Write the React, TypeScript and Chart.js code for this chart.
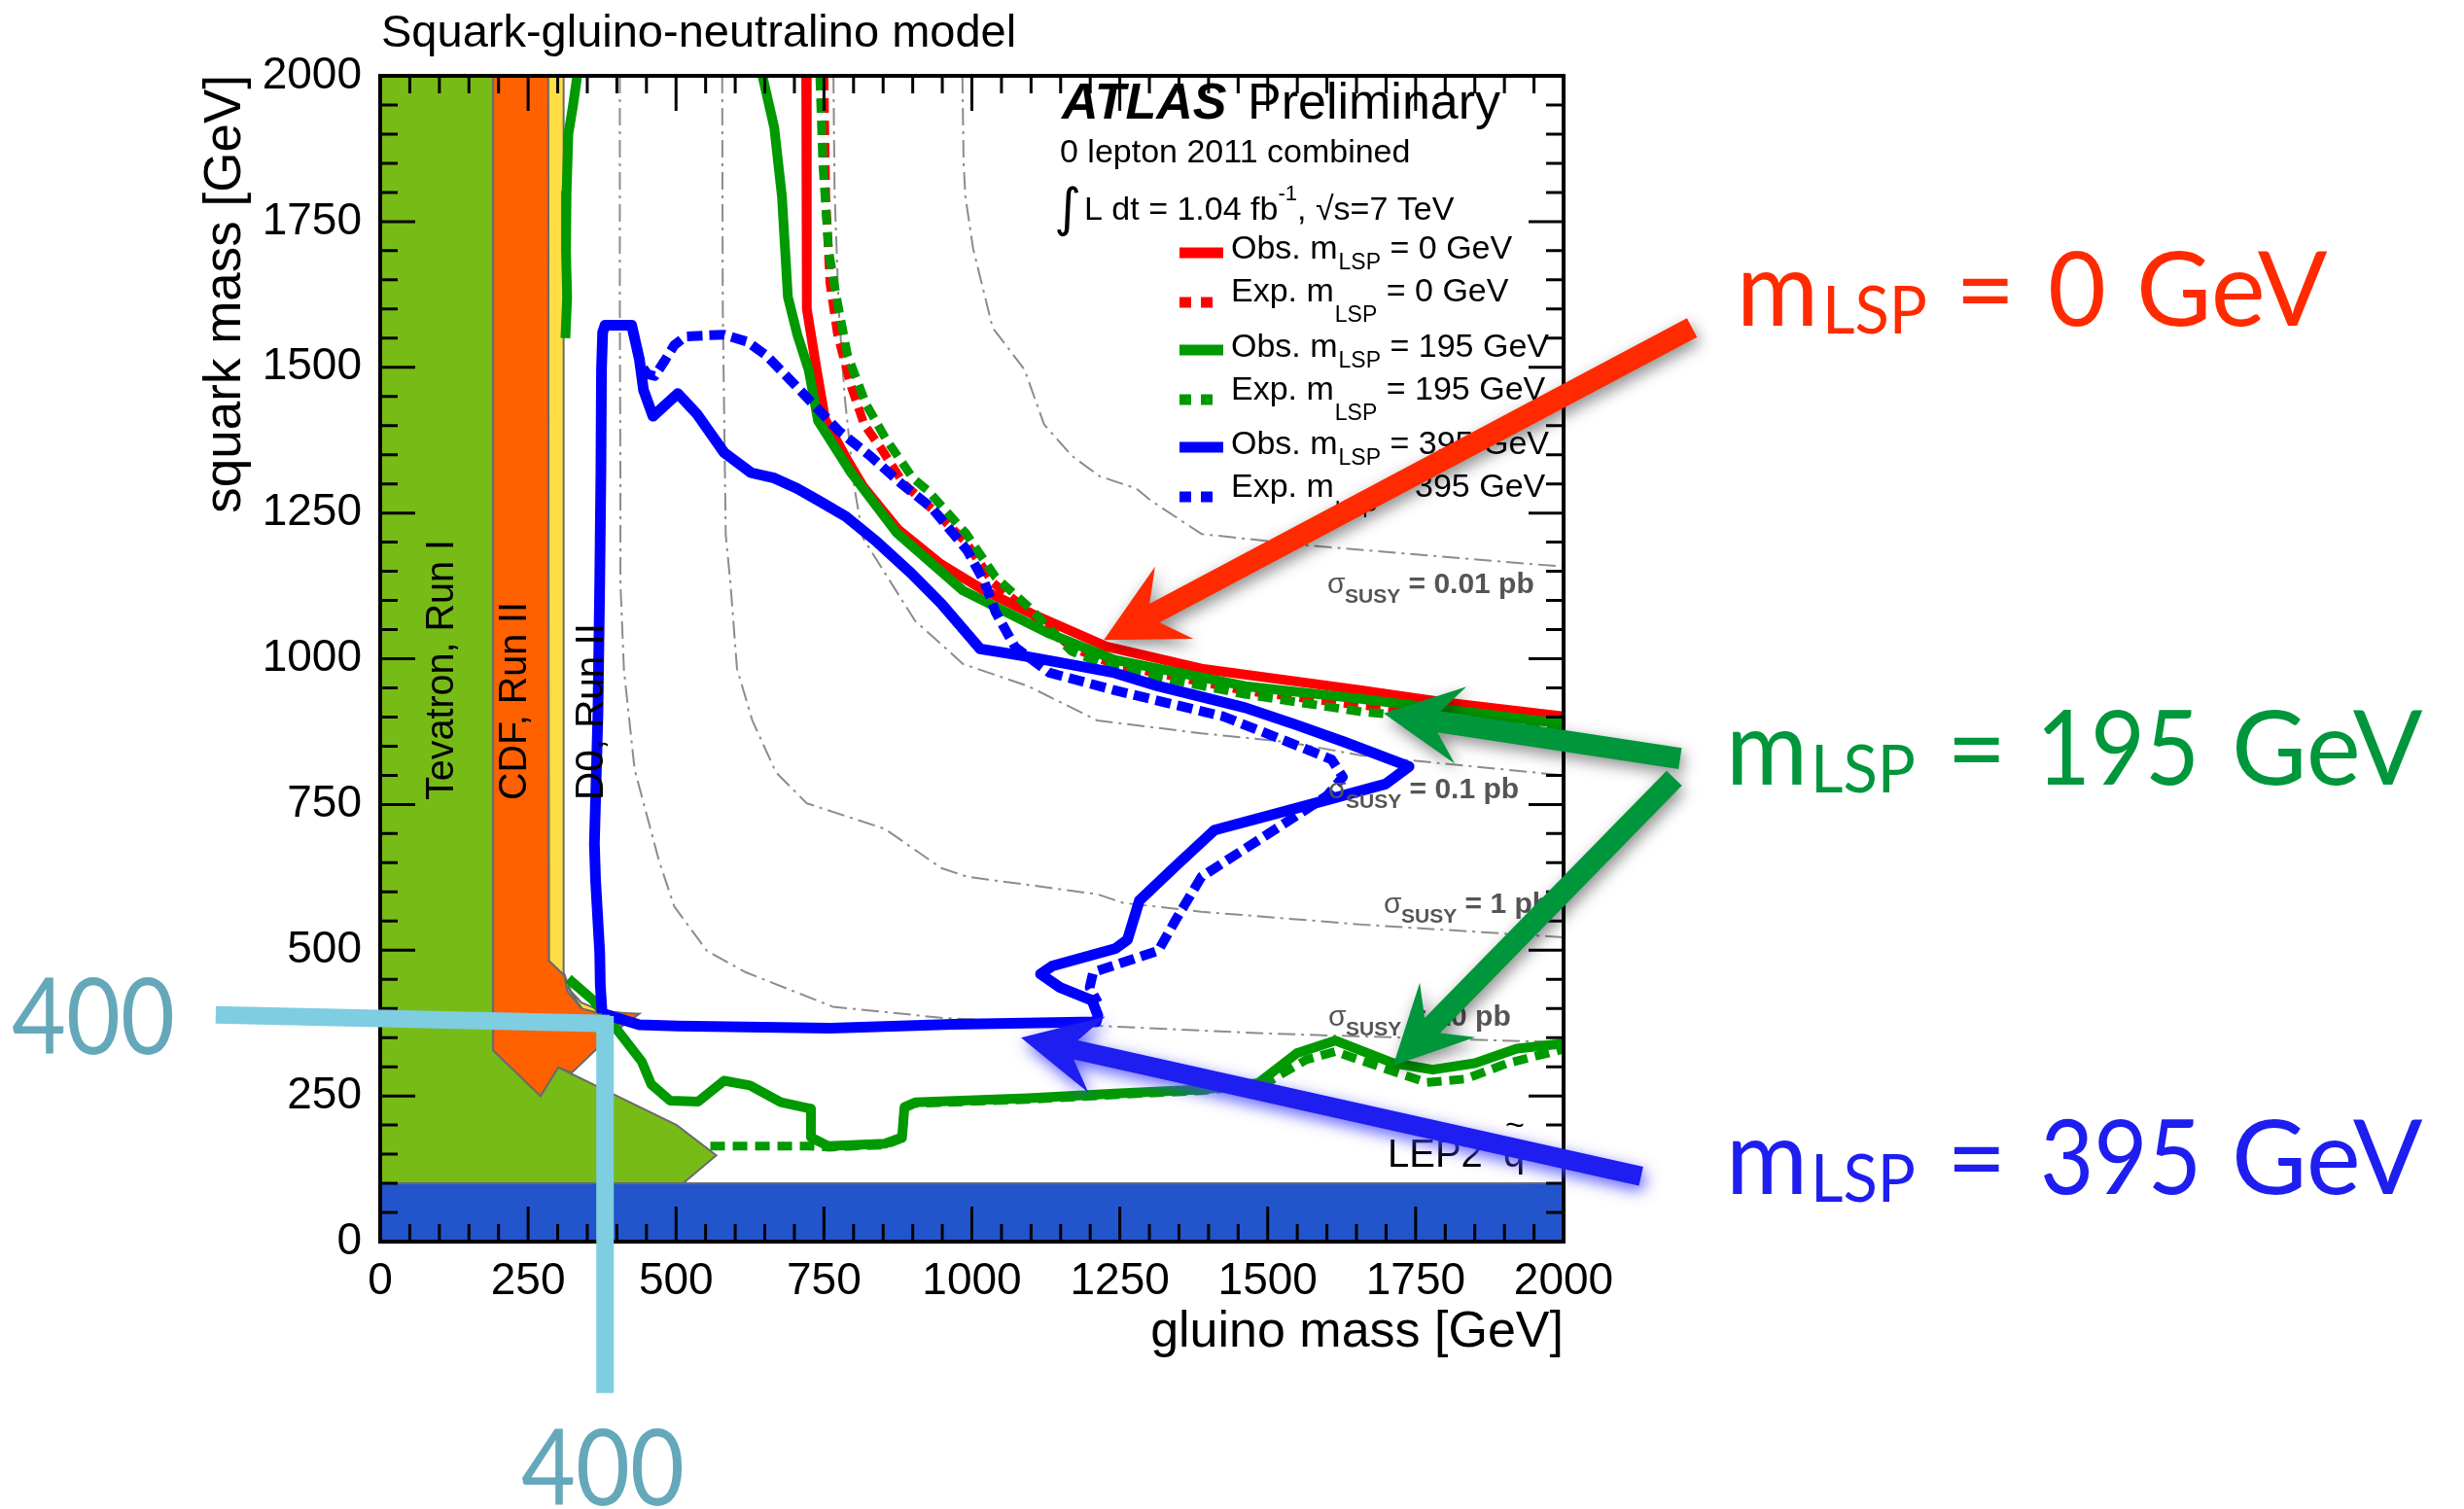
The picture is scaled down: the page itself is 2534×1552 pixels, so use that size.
import React, { useEffect, useRef } from "react";
import { Chart, registerables } from "chart.js";

Chart.register(...registerables);

type Pt = [number, number];

// ---------------- axes ----------------
const AXIS_MIN = 0;
const AXIS_MAX = 2000;
const MAJOR_STEP = 250;
const MINOR_STEP = 50;
const PLOT_TITLE = "Squark-gluino-neutralino model";
const X_TITLE = "gluino mass [GeV]";
const Y_TITLE = "squark mass [GeV]";

// ---------------- previous exclusions (gluino, squark) ----------------
const lepSquark: Pt[] = [[0, 0], [2000, 0], [2000, 100], [0, 100]];
const tevatronRunI: Pt[] = [[0, 100], [0, 2000], [191, 2000], [191, 328], [271, 250], [301, 299], [501, 200], [568, 148], [512, 100]];
const d0RunII: Pt[] = [[283, 2000], [310, 2000], [310, 462], [322, 430], [340, 410], [373, 396], [412, 392], [345, 394], [285, 482]];
const cdfRunII: Pt[] = [[191, 2000], [284, 2000], [285, 482], [311, 457], [316, 430], [340, 400], [362, 394], [438, 391], [396, 360], [360, 325], [324, 290], [301, 299], [271, 250], [191, 328]];

// ---------------- cross-section contours ----------------
const sigma10pb: Pt[] = [[405, 2000], [405, 1600], [406, 1300], [406, 1129], [412, 980], [430, 810], [471, 654], [497, 575], [552, 499], [618, 462], [765, 403], [948, 384], [1241, 369], [1500, 357], [1658, 352], [2000, 342]];
const sigma1pb: Pt[] = [[578, 2000], [579, 1600], [584, 1212], [592, 1129], [603, 983], [629, 894], [669, 805], [721, 752], [853, 708], [948, 641], [992, 626], [1212, 596], [1256, 581], [1388, 566], [1658, 544], [2000, 522]];
const sigma01pb: Pt[] = [[766, 2000], [768, 1800], [775, 1600], [785, 1450], [801, 1296], [816, 1207], [853, 1147], [904, 1065], [985, 991], [1095, 953], [1212, 894], [1388, 872], [1535, 857], [1658, 834], [2000, 800]];
const sigma001pb: Pt[] = [[984, 2000], [986, 1850], [989, 1793], [1002, 1704], [1035, 1568], [1089, 1496], [1122, 1402], [1169, 1348], [1216, 1313], [1278, 1292], [1303, 1271], [1388, 1214], [1572, 1194], [1773, 1177], [2000, 1158]];

// ---------------- ATLAS limits ----------------
const obs0: Pt[] = [[720, 2000], [721, 1600], [737, 1500], [752, 1410], [790, 1340], [816, 1296], [875, 1222], [948, 1162], [1021, 1117], [1095, 1080], [1227, 1021], [1388, 983], [1658, 946], [1800, 925], [2000, 901]];
const exp0: Pt[] = [[750, 2000], [753, 1793], [760, 1645], [773, 1556], [796, 1467], [818, 1402], [847, 1360], [885, 1300], [940, 1250], [990, 1200], [1036, 1130], [1095, 1082], [1168, 1020], [1241, 990], [1462, 945], [1658, 920], [2000, 893]];
const obs195Upper: Pt[] = [[646, 2000], [666, 1911], [679, 1793], [689, 1621], [705, 1556], [724, 1496], [740, 1408], [796, 1319], [873, 1216], [985, 1117], [1131, 1043], [1241, 998], [1462, 953], [1658, 931], [2000, 888]];
const obs195Left: Pt[] = [[333, 2000], [326, 1950], [318, 1900], [315, 1800], [314, 1700], [316, 1620], [313, 1550]];
const obs195Lower: Pt[] = [[318, 451], [360, 414], [403, 360], [442, 309], [458, 270], [490, 242], [537, 240], [581, 276], [625, 268], [677, 239], [728, 228], [728, 179], [757, 164], [853, 168], [882, 179], [886, 231], [904, 239], [1095, 246], [1241, 254], [1388, 261], [1484, 272], [1549, 323], [1614, 345], [1713, 306], [1779, 295], [1850, 306], [1921, 331], [2000, 340]];
const exp195Upper: Pt[] = [[743, 2000], [748, 1850], [758, 1700], [770, 1627], [790, 1520], [821, 1437], [854, 1378], [900, 1310], [925, 1289], [990, 1215], [1040, 1140], [1100, 1085], [1168, 1013], [1241, 983], [1462, 939], [1658, 909], [2000, 880]];
const exp195Lower: Pt[] = [[558, 164], [724, 164], [757, 162], [853, 166], [882, 177], [886, 229], [904, 237], [1095, 244], [1241, 252], [1388, 259], [1494, 270], [1565, 312], [1614, 326], [1686, 301], [1768, 273], [1834, 279], [1905, 306], [2000, 330]];
const obs395: Pt[] = [[375, 392], [372, 440], [371, 496], [364, 620], [362, 683], [368, 906], [371, 1129], [373, 1319], [374, 1496], [376, 1560], [380, 1572], [425, 1572], [438, 1514], [445, 1461], [461, 1416], [503, 1455], [536, 1419], [581, 1354], [627, 1319], [666, 1310], [705, 1292], [743, 1270], [787, 1244], [840, 1200], [897, 1147], [948, 1095], [1014, 1017], [1080, 1006], [1146, 994], [1241, 976], [1315, 953], [1462, 916], [1550, 886], [1630, 857], [1739, 815], [1699, 785], [1572, 750], [1410, 706], [1344, 644], [1283, 585], [1263, 518], [1243, 503], [1136, 473], [1116, 459], [1149, 436], [1203, 414], [1213, 388], [1210, 377], [968, 373], [761, 366], [503, 370], [438, 372], [399, 384], [375, 392]];
const exp395: Pt[] = [[425, 1572], [432, 1540], [440, 1505], [452, 1488], [464, 1485], [480, 1510], [497, 1538], [516, 1553], [581, 1556], [620, 1544], [653, 1520], [698, 1473], [737, 1431], [776, 1390], [828, 1348], [880, 1301], [932, 1259], [992, 1186], [1021, 1132], [1040, 1080], [1073, 1020], [1131, 976], [1241, 946], [1425, 901], [1535, 857], [1608, 827], [1627, 797], [1600, 765], [1552, 733], [1388, 626], [1344, 551], [1315, 499], [1205, 462], [1199, 436], [1213, 410]];

// ---------------- annotation arrows in (gluino, squark) coordinates ----------------
const arrowRed = [2217, 1568, 1223, 1032];
const arrowGreen1 = [2197, 829, 1696, 906];
const arrowGreen2 = [2187, 795, 1712, 302];
const arrowBlue = [2131, 112, 1083, 350];
const guideH = [-278, 389, 388, 374];
const guideV = [380, 387, 380, -260];

const SANS = '"Liberation Sans", Arial, Helvetica, sans-serif';
const GILL = 'Lato, "Open Sans", sans-serif';

const toXY = (p: Pt[]) => p.map(([x, y]) => ({ x, y }));

function lineDs(label: string, pts: Pt[], color: string, width: number, order: number, dash: number[] = []): any {
  return {
    label,
    data: toXY(pts),
    borderColor: color,
    borderWidth: width,
    borderDash: dash,
    borderJoinStyle: "round",
    pointRadius: 0,
    pointHoverRadius: 0,
    tension: 0,
    fill: false,
    clip: 0,
    order,
  };
}

function polyDs(label: string, pts: Pt[], color: string, order: number): any {
  const closed = [...pts, pts[0]];
  return {
    label,
    data: toXY(closed),
    borderColor: "#6a6a6a",
    borderWidth: 2,
    backgroundColor: color,
    pointRadius: 0,
    tension: 0,
    fill: "shape",
    clip: 0,
    order,
  };
}

function fit(ctx: any, s: string, x: number, y: number, maxW?: number) {
  if (maxW) ctx.fillText(s, x, y, maxW);
  else ctx.fillText(s, x, y);
}

function drawArrow(ctx: any, x1: number, y1: number, x2: number, y2: number, color: string, shadow: string, shaft: number, headLen: number, headHalf: number) {
  const dx = x2 - x1, dy = y2 - y1, L = Math.hypot(dx, dy);
  const ux = dx / L, uy = dy / L, nx = -uy, ny = ux;
  const notch = headLen * 0.72;
  const hbx = x2 - ux * headLen, hby = y2 - uy * headLen;
  const nbx = x2 - ux * notch, nby = y2 - uy * notch;
  ctx.save();
  ctx.fillStyle = color;
  ctx.shadowColor = shadow;
  ctx.shadowBlur = 16;
  ctx.shadowOffsetX = 3;
  ctx.shadowOffsetY = 6;
  ctx.beginPath();
  ctx.moveTo(x1 + nx * shaft / 2, y1 + ny * shaft / 2);
  ctx.lineTo(nbx + nx * shaft / 2, nby + ny * shaft / 2);
  ctx.lineTo(hbx + nx * headHalf, hby + ny * headHalf);
  ctx.lineTo(x2, y2);
  ctx.lineTo(hbx - nx * headHalf, hby - ny * headHalf);
  ctx.lineTo(nbx - nx * shaft / 2, nby - ny * shaft / 2);
  ctx.lineTo(x1 - nx * shaft / 2, y1 - ny * shaft / 2);
  ctx.closePath();
  ctx.fill();
  ctx.restore();
}

function sigmaLabel(ctx: any, x: number, y: number, value: string) {
  ctx.fillStyle = "#555";
  ctx.font = `30px ${SANS}`;
  ctx.fillText("σ", x, y);
  ctx.font = `bold 21px ${SANS}`;
  ctx.fillText("SUSY", x + 18, y + 10);
  const w = ctx.measureText("SUSY").width;
  ctx.font = `bold 30px ${SANS}`;
  ctx.fillText(` = ${value} pb`, x + 18 + w, y);
}

function legendRow(ctx: any, baseline: number, sampleY: number, prefix: string, value: string, color: string, dashed: boolean, subDy: number) {
  ctx.save();
  ctx.strokeStyle = color;
  ctx.lineWidth = 11;
  ctx.lineCap = "butt";
  ctx.setLineDash(dashed ? [12, 10] : []);
  ctx.beginPath();
  ctx.moveTo(1213, sampleY);
  ctx.lineTo(dashed ? 1249 : 1258, sampleY);
  ctx.stroke();
  ctx.restore();
  ctx.fillStyle = "#000";
  ctx.font = `34px ${SANS}`;
  const t1 = `${prefix} m`;
  ctx.fillText(t1, 1266, baseline);
  let x = 1266 + ctx.measureText(t1).width + 1;
  ctx.font = `23px ${SANS}`;
  ctx.fillText("LSP", x, baseline + subDy);
  x += ctx.measureText("LSP").width;
  ctx.font = `34px ${SANS}`;
  ctx.fillText(` = ${value} GeV`, x, baseline);
}

function bigLabel(ctx: any, color: string, baseline: number, xs: number[], value: string, valueW: number) {
  ctx.fillStyle = color;
  ctx.font = `106px ${GILL}`;
  ctx.fillText("m", xs[0], baseline, 84);
  ctx.font = `68px ${GILL}`;
  ctx.fillText("LSP", xs[1], baseline + 8, 108);
  ctx.font = `106px ${GILL}`;
  ctx.fillText("=", xs[2], baseline, 62);
  ctx.fillText(value, xs[3], baseline, valueW);
  ctx.fillText("GeV", xs[4], baseline, 204);
}

const overlayPlugin: any = {
  id: "susyOverlay",
  afterDatasetsDraw(chart: any) {
    const ctx = chart.ctx;
    const a = chart.chartArea;
    const xs = chart.scales.x;
    const ys = chart.scales.y;
    ctx.save();

    // inward ticks on all four sides + frame
    ctx.strokeStyle = "#000";
    ctx.lineWidth = 3;
    ctx.beginPath();
    for (let v = AXIS_MIN; v <= AXIS_MAX; v += MINOR_STEP) {
      const len = v % MAJOR_STEP === 0 ? 36 : 18;
      const X = xs.getPixelForValue(v);
      const Y = ys.getPixelForValue(v);
      ctx.moveTo(X, a.bottom); ctx.lineTo(X, a.bottom - len);
      ctx.moveTo(X, a.top); ctx.lineTo(X, a.top + len);
      ctx.moveTo(a.left, Y); ctx.lineTo(a.left + len, Y);
      ctx.moveTo(a.right, Y); ctx.lineTo(a.right - len, Y);
    }
    ctx.stroke();
    ctx.lineWidth = 4;
    ctx.strokeRect(a.left, a.top, a.right - a.left, a.bottom - a.top);

    ctx.fillStyle = "#000";
    ctx.textBaseline = "alphabetic";
    ctx.textAlign = "left";

    // plot title
    ctx.font = `47px ${SANS}`;
    fit(ctx, PLOT_TITLE, 392, 48, 660);

    // x axis title
    ctx.font = `52px ${SANS}`;
    ctx.textAlign = "right";
    fit(ctx, X_TITLE, a.right, 1385, 436);

    // y axis title
    ctx.save();
    ctx.translate(247, a.top - 1);
    ctx.rotate(-Math.PI / 2);
    ctx.font = `53px ${SANS}`;
    ctx.textAlign = "right";
    fit(ctx, Y_TITLE, 0, 0, 456);
    ctx.restore();
    ctx.textAlign = "left";

    // Tevatron labels
    const vert = (s: string, bx: number, len: number) => {
      ctx.save();
      ctx.translate(bx, 823);
      ctx.rotate(-Math.PI / 2);
      ctx.font = `41px ${SANS}`;
      ctx.fillStyle = "#000";
      fit(ctx, s, 0, 0, len);
      ctx.restore();
    };
    vert("Tevatron, Run I", 466, 268);
    vert("CDF, Run II", 541, 204);
    vert("D0, Run II", 620, 182);

    // sigma labels
    sigmaLabel(ctx, 1365, 610, "0.01");
    sigmaLabel(ctx, 1366, 821, "0.1");
    sigmaLabel(ctx, 1423, 939, "1");
    sigmaLabel(ctx, 1366, 1055, "10");

    // LEP2 squark
    ctx.fillStyle = "#000";
    ctx.font = `40px ${SANS}`;
    ctx.fillText("LEP2", 1427, 1200);
    ctx.fillText("q", 1546, 1200);
    ctx.font = `34px ${SANS}`;
    ctx.fillText("~", 1548, 1168);

    // header texts
    ctx.font = `italic bold 52px ${SANS}`;
    fit(ctx, "ATLAS", 1092, 122, 178);
    ctx.font = `52px ${SANS}`;
    fit(ctx, "Preliminary", 1283, 122, 268);
    ctx.font = `34px ${SANS}`;
    fit(ctx, "0 lepton 2011 combined", 1090, 167, 373);
    ctx.font = `54px "DejaVu Sans", ${SANS}`;
    ctx.fillText("∫", 1084, 232);
    ctx.font = `34px ${SANS}`;
    ctx.fillText("L dt = 1.04 fb", 1115, 226);
    let ix = 1115 + ctx.measureText("L dt = 1.04 fb").width;
    ctx.font = `22px ${SANS}`;
    ctx.fillText("-1", ix, 206);
    ix += ctx.measureText("-1").width;
    ctx.font = `34px ${SANS}`;
    ctx.fillText(", √s=7 TeV", ix, 226);

    // legend
    legendRow(ctx, 266, 260, "Obs.", "0", "#ff0000", false, 11);
    legendRow(ctx, 310, 311, "Exp.", "0", "#ff0000", true, 21);
    legendRow(ctx, 367, 360, "Obs.", "195", "#009900", false, 11);
    legendRow(ctx, 411, 411, "Exp.", "195", "#009900", true, 21);
    legendRow(ctx, 467, 460, "Obs.", "395", "#0000ff", false, 11);
    legendRow(ctx, 511, 511, "Exp.", "395", "#0000ff", true, 21);

    ctx.restore();
  },
  afterDraw(chart: any) {
    const ctx = chart.ctx;
    const xs = chart.scales.x;
    const ys = chart.scales.y;
    const P = (arr: number[]) => [xs.getPixelForValue(arr[0]), ys.getPixelForValue(arr[1]), xs.getPixelForValue(arr[2]), ys.getPixelForValue(arr[3])];
    ctx.save();

    // guide lines at 400 GeV
    ctx.strokeStyle = "#7ecde0";
    ctx.lineWidth = 18;
    ctx.lineCap = "butt";
    const h = P(guideH);
    ctx.beginPath(); ctx.moveTo(h[0], h[1]); ctx.lineTo(h[2], h[3]); ctx.stroke();
    const v = P(guideV);
    ctx.beginPath(); ctx.moveTo(v[0], v[1]); ctx.lineTo(v[2], v[3]); ctx.stroke();
    ctx.fillStyle = "#64a8b9";
    ctx.font = `108px ${GILL}`;
    ctx.fillText("400", 12, 1084, 168);
    ctx.fillText("400", 536, 1548, 168);

    // arrows
    const r = P(arrowRed);
    drawArrow(ctx, r[0], r[1], r[2], r[3], "#ff2a00", "rgba(0,0,0,0.45)", 22, 82, 42);
    const g1 = P(arrowGreen1);
    drawArrow(ctx, g1[0], g1[1], g1[2], g1[3], "#00963c", "rgba(0,0,0,0.45)", 22, 80, 40);
    const g2 = P(arrowGreen2);
    drawArrow(ctx, g2[0], g2[1], g2[2], g2[3], "#00963c", "rgba(0,0,0,0.45)", 22, 80, 40);
    const b = P(arrowBlue);
    drawArrow(ctx, b[0], b[1], b[2], b[3], "#1e1ef0", "rgba(70,70,255,0.85)", 20, 80, 40);

    // big labels
    bigLabel(ctx, "#ff2a00", 335, [1786, 1874, 2011, 2106, 2197], "0", 60);
    bigLabel(ctx, "#00963c", 807, [1775, 1862, 2002, 2094, 2295], "195", 168);
    bigLabel(ctx, "#1e1ef0", 1228, [1775, 1862, 2002, 2098, 2295], "395", 166);

    ctx.restore();
  },
};

export default function App() {
  const ref = useRef<HTMLCanvasElement>(null);
  useEffect(() => {
    const canvas = ref.current;
    if (!canvas) return;
    const datasets: any[] = [
      polyDs("LEP2 squark", lepSquark, "#2255cc", 30),
      polyDs("Tevatron, Run I", tevatronRunI, "#77bb17", 29),
      polyDs("D0, Run II", d0RunII, "#ffdd44", 28),
      polyDs("CDF, Run II", cdfRunII, "#ff6000", 27),
      lineDs("sigma 10 pb", sigma10pb, "#8c8c8c", 2, 26, [18, 6, 3, 6]),
      lineDs("sigma 1 pb", sigma1pb, "#8c8c8c", 2, 25, [18, 6, 3, 6]),
      lineDs("sigma 0.1 pb", sigma01pb, "#8c8c8c", 2, 24, [18, 6, 3, 6]),
      lineDs("sigma 0.01 pb", sigma001pb, "#8c8c8c", 2, 23, [18, 6, 3, 6]),
      lineDs("Exp. mLSP = 0 GeV", exp0, "#ff0000", 9, 20, [15, 8]),
      lineDs("Obs. mLSP = 0 GeV", obs0, "#ff0000", 10, 19),
      lineDs("Exp. mLSP = 195 GeV", exp195Upper, "#009900", 9, 18, [15, 8]),
      lineDs("Exp. mLSP = 195 GeV (low)", exp195Lower, "#009900", 9, 18, [15, 8]),
      lineDs("Obs. mLSP = 195 GeV", obs195Upper, "#009900", 10, 17),
      lineDs("Obs. mLSP = 195 GeV (left)", obs195Left, "#009900", 10, 17),
      lineDs("Obs. mLSP = 195 GeV (low)", obs195Lower, "#009900", 10, 17),
      lineDs("Obs. mLSP = 395 GeV", obs395, "#0000ff", 11, 16),
      lineDs("Exp. mLSP = 395 GeV", exp395, "#0000ff", 10, 15, [16, 7]),
    ];
    const tickCfg = (padding: number) => ({
      stepSize: MAJOR_STEP,
      autoSkip: false,
      maxRotation: 0,
      minRotation: 0,
      padding,
      color: "#000",
      font: { family: SANS, size: 46 },
      callback: (val: any) => String(val),
    });
    const chart = new Chart(canvas, {
      type: "line",
      data: { datasets },
      options: {
        responsive: false,
        animation: false,
        events: [],
        layout: { padding: { left: 0, top: 78, right: 926, bottom: 0 } },
        plugins: { legend: { display: false }, tooltip: { enabled: false }, title: { display: false } },
        scales: {
          x: {
            type: "linear",
            min: AXIS_MIN,
            max: AXIS_MAX,
            afterFit: (s: any) => { s.height = 275; },
            grid: { display: false, drawTicks: false },
            border: { display: false },
            ticks: tickCfg(14),
          },
          y: {
            type: "linear",
            min: AXIS_MIN,
            max: AXIS_MAX,
            afterFit: (s: any) => { s.width = 391; },
            grid: { display: false, drawTicks: false },
            border: { display: false },
            ticks: tickCfg(19),
          },
        },
      } as any,
      plugins: [overlayPlugin],
    } as any);
    return () => chart.destroy();
  }, []);
  return (
    <div style={{ position: "fixed", left: 0, top: 0, width: 2534, height: 1552, background: "#fff" }}>
      <canvas ref={ref} width={2534} height={1552} style={{ width: 2534, height: 1552, display: "block" }} />
    </div>
  );
}
